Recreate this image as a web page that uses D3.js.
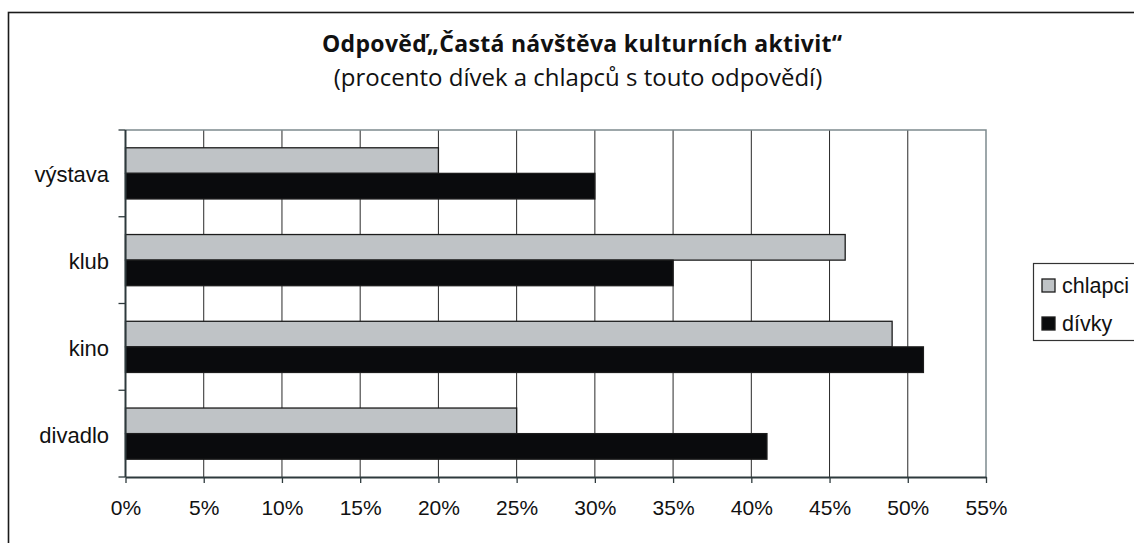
<!DOCTYPE html>
<html>
<head>
<meta charset="utf-8">
<script src="https://cdn.jsdelivr.net/npm/d3@7"></script>
<style>
  body { margin: 0; background: #fff; }
  svg { display: block; }
</style>
</head>
<body>
<div id="chart"></div>
<script>
// data
const categories = ["výstava", "klub", "kino", "divadlo"];
const seriesNames = ["chlapci", "dívky"];
const chlapci = [20, 46, 49, 25];
const divky = [30, 35, 51, 41];
const xTicks = [0, 5, 10, 15, 20, 25, 30, 35, 40, 45, 50, 55];

const W = 1134, H = 543;
const plot = { left: 125.5, right: 986, top: 130, bottom: 477 };
const colors = { chlapci: "#bfc3c6", "dívky": "#0a0b0d" };

const svg = d3.select("#chart").append("svg").attr("width", W).attr("height", H);

// outer frame (runs off the right and bottom edges)
svg.append("rect")
  .attr("x", 8.5).attr("y", 12.5)
  .attr("width", W + 10).attr("height", H + 10)
  .attr("fill", "none").attr("stroke", "#1a1a1a").attr("stroke-width", 1.6);

// title
svg.append("text")
  .attr("x", 582).attr("y", 52)
  .attr("text-anchor", "middle")
  .attr("textLength", 520).attr("lengthAdjust", "spacing")
  .style("font-family", "'Open Sans', sans-serif")
  .style("font-weight", "bold").style("font-size", "23px")
  .attr("fill", "#111")
  .text("Odpověď„Častá návštěva kulturních aktivit“");
svg.append("text")
  .attr("x", 578).attr("y", 86)
  .attr("text-anchor", "middle")
  .style("font-family", "'Open Sans', sans-serif")
  .style("font-size", "24px")
  .attr("fill", "#111")
  .text("(procento dívek a chlapců s touto odpovědí)");

const x = d3.scaleLinear().domain([0, 55]).range([plot.left, plot.right]);
const y = d3.scaleBand().domain(categories).range([plot.top, plot.bottom]).paddingInner(0.41).paddingOuter(0.205);
const ySub = d3.scaleBand().domain(seriesNames).range([0, y.bandwidth()]);

// gridlines
svg.append("g").selectAll("line")
  .data(xTicks.filter(d => d > 0 && d < 55))
  .join("line")
  .attr("x1", d => x(d)).attr("x2", d => x(d))
  .attr("y1", plot.top).attr("y2", plot.bottom)
  .attr("stroke", "#2a2a2a").attr("stroke-width", 1);

// plot top and right border
svg.append("path")
  .attr("d", `M${plot.left},${plot.top}H${plot.right}V${plot.bottom}`)
  .attr("fill", "none").attr("stroke", "#7d8a8e").attr("stroke-width", 1.5);

// bars
const rows = categories.map((c, i) => ({ cat: c, chlapci: chlapci[i], "dívky": divky[i] }));
const groups = svg.append("g").selectAll("g")
  .data(rows).join("g")
  .attr("transform", d => `translate(0,${y(d.cat)})`);
groups.selectAll("rect")
  .data(d => seriesNames.map(s => ({ s: s, v: d[s] })))
  .join("rect")
  .attr("x", x(0))
  .attr("y", d => ySub(d.s))
  .attr("width", d => x(d.v) - x(0))
  .attr("height", ySub.bandwidth())
  .attr("fill", d => colors[d.s])
  .attr("stroke", "#1c1c1c").attr("stroke-width", 1.3);

// x axis
const xAxis = svg.append("g")
  .attr("transform", `translate(0,${plot.bottom})`)
  .call(d3.axisBottom(x).tickValues(xTicks).tickFormat(d => d + "%").tickSize(6).tickSizeOuter(0).tickPadding(17));
xAxis.select(".domain").attr("stroke", "#2e3a3d").attr("stroke-width", 2);
xAxis.selectAll(".tick line").attr("stroke", "#2e3a3d").attr("stroke-width", 1.3);
xAxis.selectAll("text")
  .style("font-family", "'Liberation Sans', Arial, sans-serif")
  .style("font-size", "21px").attr("fill", "#111");

// y axis: line + ticks at band boundaries
const yAxisG = svg.append("g");
yAxisG.append("line")
  .attr("x1", plot.left).attr("x2", plot.left)
  .attr("y1", plot.top).attr("y2", plot.bottom)
  .attr("stroke", "#2e3a3d").attr("stroke-width", 2);
yAxisG.selectAll(".ytick")
  .data(d3.range(categories.length + 1))
  .join("line")
  .attr("x1", plot.left - 7).attr("x2", plot.left)
  .attr("y1", i => plot.top + i * (plot.bottom - plot.top) / categories.length)
  .attr("y2", i => plot.top + i * (plot.bottom - plot.top) / categories.length)
  .attr("stroke", "#2e3a3d").attr("stroke-width", 1.3);
yAxisG.selectAll(".ylabel")
  .data(categories)
  .join("text")
  .attr("x", 109)
  .attr("y", d => y(d) + y.bandwidth() / 2 + 9)
  .attr("text-anchor", "end")
  .style("font-family", "'Liberation Sans', Arial, sans-serif")
  .style("font-size", "22px").attr("fill", "#111")
  .text(d => d);

// legend
const legend = svg.append("g");
legend.append("rect")
  .attr("x", 1033.5).attr("y", 263.5).attr("width", 120).attr("height", 77)
  .attr("fill", "#fff").attr("stroke", "#333").attr("stroke-width", 1.2);
const items = legend.selectAll("g.item")
  .data(seriesNames).join("g")
  .attr("transform", (d, i) => `translate(1042,${279 + i * 38})`);
items.append("rect")
  .attr("width", 13).attr("height", 13)
  .attr("fill", d => colors[d]).attr("stroke", "#1c1c1c").attr("stroke-width", 1.3);
items.append("text")
  .attr("x", 20).attr("y", 13.5)
  .style("font-family", "'Liberation Sans', Arial, sans-serif")
  .style("font-size", "21.5px").attr("fill", "#111")
  .text(d => d);
</script>
</body>
</html>
